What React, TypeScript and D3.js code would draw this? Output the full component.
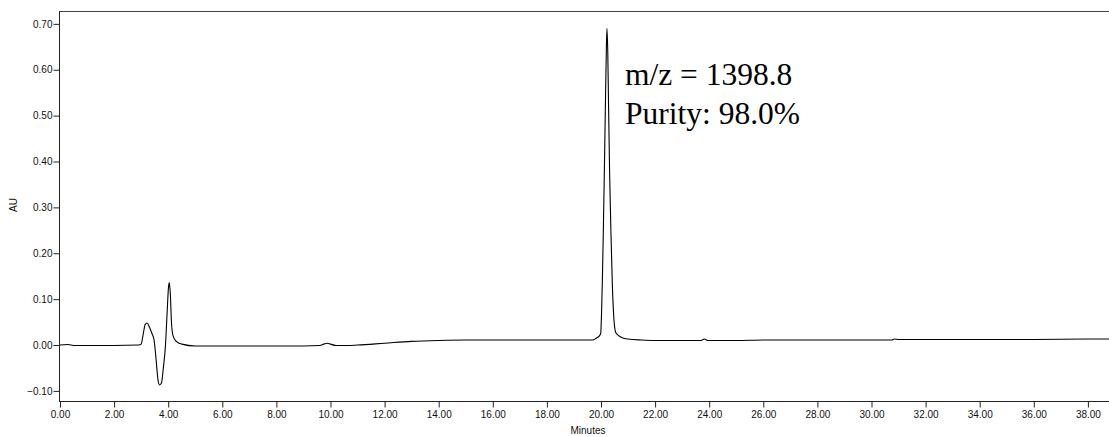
import React, { useEffect, useRef } from "react";
import * as d3 from "d3";

// retention time (min) and absorbance (AU)
const times = [
  0.0, 0.3, 0.5, 1.0, 2.0, 2.9, 3.0, 3.08, 3.15, 3.22, 3.3, 3.4, 3.48, 3.55, 3.62, 3.68, 3.75, 3.82,
  3.9, 3.96, 4.01, 4.04, 4.08, 4.12, 4.18, 4.3, 4.5, 5.0, 6.0, 7.0, 8.0, 9.0, 9.6, 9.75, 9.88, 10.0,
  10.2, 10.6, 11.0, 12.0, 13.0, 14.0, 15.0, 16.0, 17.0, 18.0, 19.0, 19.7, 19.85, 19.94, 19.99, 20.02,
  20.05, 20.09, 20.13, 20.17, 20.2, 20.22, 20.25, 20.28, 20.32, 20.37, 20.42, 20.48, 20.54, 20.64,
  20.78, 21.0, 21.5, 22.0, 23.0, 23.7, 23.82, 23.95, 25.0, 26.0, 28.0, 30.0, 30.75, 30.85, 31.0, 32.0,
  34.0, 36.0, 38.0, 38.78,
];
const absorbance = [
  0.0, 0.001, -0.001, -0.001, -0.001, 0.0, 0.002, 0.025, 0.045, 0.048, 0.04, 0.025, 0.01, -0.03, -0.075,
  -0.087, -0.083, -0.05, 0.0, 0.07, 0.125, 0.136, 0.11, 0.05, 0.02, 0.008, 0.002, -0.002, -0.002, -0.002,
  -0.002, -0.002, -0.001, 0.002, 0.004, 0.002, -0.001, -0.001, 0.0, 0.004, 0.008, 0.01, 0.011, 0.011,
  0.011, 0.011, 0.011, 0.011, 0.016, 0.02, 0.026, 0.069, 0.14, 0.26, 0.4, 0.55, 0.65, 0.69, 0.64, 0.52,
  0.37, 0.24, 0.13, 0.055, 0.028, 0.021, 0.016, 0.013, 0.011, 0.01, 0.01, 0.01, 0.013, 0.01, 0.01, 0.011,
  0.011, 0.011, 0.011, 0.013, 0.012, 0.012, 0.012, 0.012, 0.013, 0.013,
];

const xTicks = d3.range(0, 38.01, 2);
const xMinor = d3.range(0, 38.8, 0.5);
const yTicks = [-0.1, 0.0, 0.1, 0.2, 0.3, 0.4, 0.5, 0.6, 0.7];
const yMinor = d3.range(-0.12, 0.721, 0.02);
const notes = ["m/z = 1398.8", "Purity: 98.0%"];

const W = 1109, H = 437;
const left = 59, top = 11, bottom = 401, right = 1109;

export default function App() {
  const ref = useRef<SVGSVGElement>(null);

  useEffect(() => {
    const svg = d3.select(ref.current);
    svg.selectAll("*").remove();

    const x = d3.scaleLinear().domain([0, 38.78]).range([left + 1, right]);
    const y = d3.scaleLinear().domain([-0.122, 0.728]).range([bottom, top]);
    const font = "'Liberation Sans', Arial, sans-serif";

    // frame top line
    svg.append("line").attr("x1", left).attr("x2", right).attr("y1", top + 0.5).attr("y2", top + 0.5)
      .attr("stroke", "#444").attr("stroke-width", 1);

    // x axis
    const gx = svg.append("g").attr("transform", `translate(0,${bottom + 0.5})`);
    gx.call(d3.axisBottom(x).tickValues(xMinor).tickSize(3).tickSizeOuter(0).tickFormat(() => ""));
    gx.call(d3.axisBottom(x).tickValues(xTicks).tickSize(6).tickSizeOuter(0).tickFormat(d3.format(".2f")) as any);
    gx.select(".domain").attr("d", `M${left},0H${right}`);
    gx.selectAll("text").attr("font-family", font).attr("font-size", 10).attr("fill", "#111").attr("dy", "0.85em").attr("y", 8);
    gx.selectAll("line,path").attr("stroke", "#222");

    // y axis
    const gy = svg.append("g").attr("transform", `translate(${left + 0.5},0)`);
    gy.call(d3.axisLeft(y).tickValues(yMinor).tickSize(3).tickSizeOuter(0).tickFormat(() => ""));
    gy.call(d3.axisLeft(y).tickValues(yTicks).tickSize(6).tickSizeOuter(0).tickFormat(d3.format(".2f")) as any);
    gy.select(".domain").attr("d", `M0,${top}V${bottom}`);
    gy.selectAll("text").attr("font-family", font).attr("font-size", 10).attr("fill", "#111").attr("x", -7);
    gy.selectAll("line,path").attr("stroke", "#222");

    // axis titles
    svg.append("text").attr("x", 588).attr("y", 434).attr("text-anchor", "middle")
      .attr("font-family", font).attr("font-size", 10).attr("fill", "#111").text("Minutes");
    svg.append("text").attr("transform", "translate(17,205) rotate(-90)").attr("text-anchor", "middle")
      .attr("font-family", font).attr("font-size", 10).attr("fill", "#111").text("AU");

    // chromatogram trace
    const pts = times.map((t, i) => [t, absorbance[i]] as [number, number]);
    const line = d3.line<[number, number]>().x(d => x(d[0])).y(d => y(d[1])).curve(d3.curveMonotoneX);
    svg.append("path").attr("d", line(pts)).attr("fill", "none").attr("stroke", "#000").attr("stroke-width", 1.1);

    // annotation
    svg.selectAll(".note").data(notes).join("text").attr("class", "note")
      .attr("x", 625).attr("y", (d, i) => 85 + i * 39)
      .attr("font-family", "'Liberation Serif', 'Times New Roman', serif").attr("font-size", 31.5).attr("fill", "#000")
      .text(d => d);
  }, []);

  return (
    <svg ref={ref} width={W} height={H} style={{ position: "absolute", left: 0, top: 0, background: "#fff" }} />
  );
}
